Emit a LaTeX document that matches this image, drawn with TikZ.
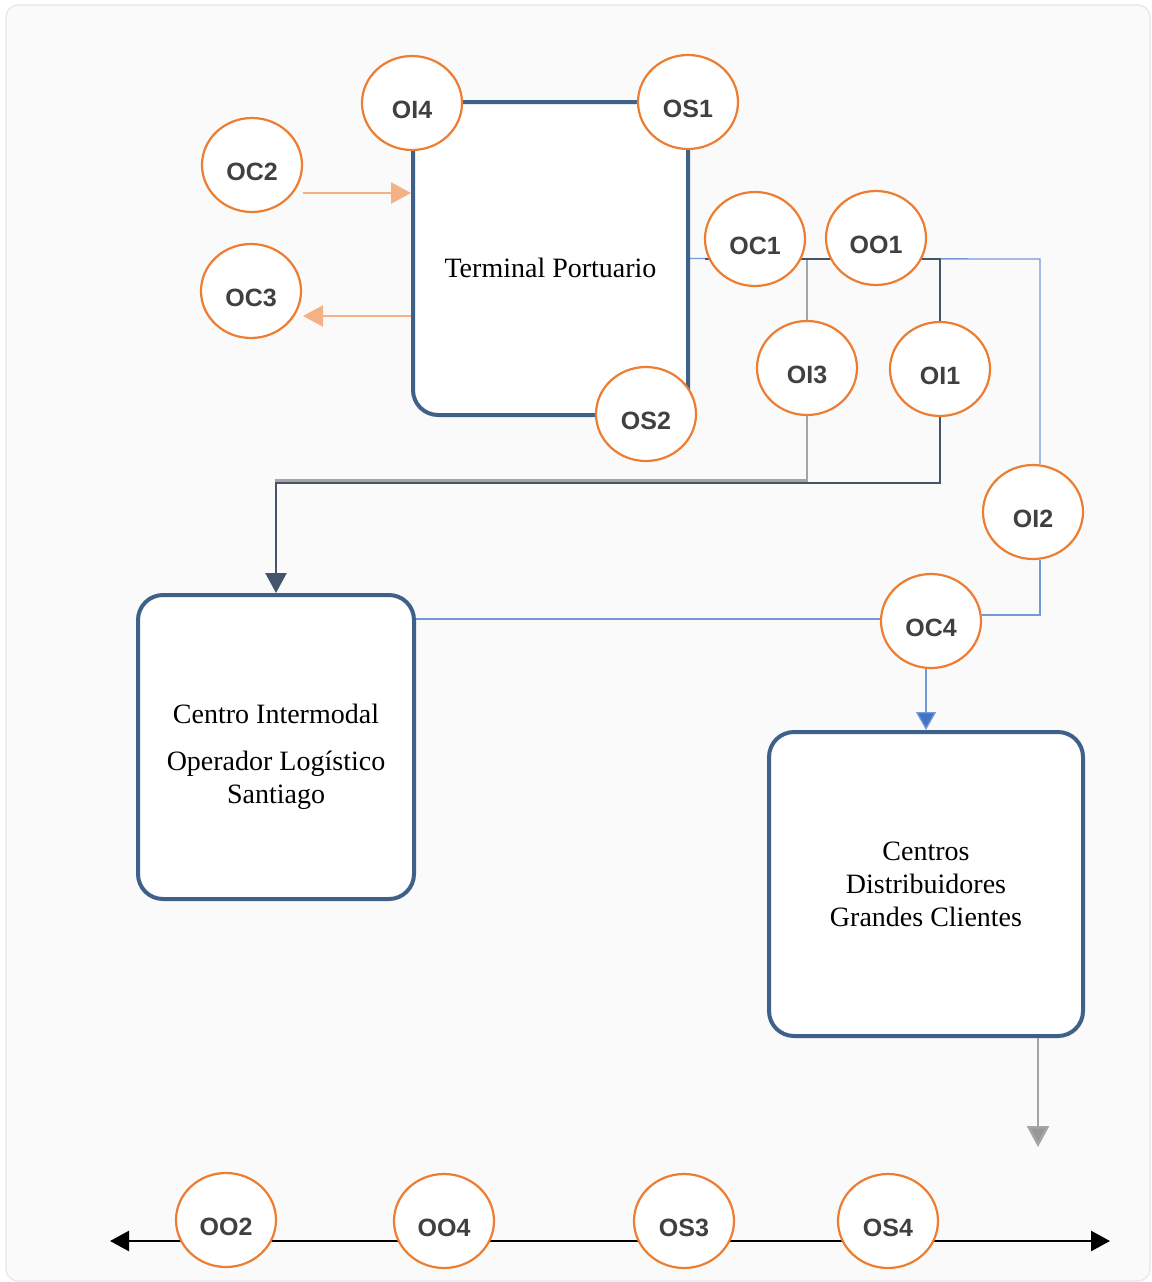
\documentclass[tikz,border=0pt]{standalone}
\usepackage{fontspec}
\setmainfont{Liberation Serif}
\newfontfamily\tagfont{Liberation Sans}
\usetikzlibrary{arrows.meta,shapes.geometric}

\definecolor{pagefill}{HTML}{FAFAFA}
\definecolor{pageedge}{HTML}{E1E7F0}
\definecolor{ringorange}{HTML}{ED7D31}
\definecolor{softorange}{HTML}{F4B183}
\definecolor{boxblue}{HTML}{3F6189}
\definecolor{slateline}{HTML}{44546A}
\definecolor{greyline}{HTML}{A5A5A5}
\definecolor{greytip}{HTML}{979797}
\definecolor{flowblue}{HTML}{7399DA}
\definecolor{tipblue}{HTML}{4472C4}
\definecolor{tagtext}{HTML}{404040}

\pgfdeclarelayer{backdrop}
\pgfdeclarelayer{wires}
\pgfsetlayers{backdrop,wires,main}

\tikzset{
  ring/.style={ellipse, draw=ringorange, line width=2.2pt, fill=white,
    minimum width=100pt, minimum height=94pt, inner sep=0pt,
    text=tagtext, font=\tagfont\bfseries\fontsize{25}{25}\selectfont},
  site/.style={rectangle, rounded corners=25pt, draw=boxblue, line width=4pt,
    fill=white, inner sep=0pt},
  sitetext/.style={align=center, text=black, font=\fontsize{28}{33}\selectfont},
  slatewire/.style={draw=slateline, line width=2.5pt},
  greywire/.style={draw=greyline, line width=2.5pt},
  bluewire/.style={draw=flowblue, line width=1.3pt},
  feedwire/.style={draw=softorange, line width=2.5pt,
    -{Triangle[length=20pt,width=21pt]}},
}
\newcommand{\tagtxt}[1]{\raisebox{-6.5pt}[\height][\depth]{#1}}

\begin{document}
\begin{tikzpicture}[x=1pt,y=-1pt]
\useasboundingbox (0,0) rectangle (1151,1282);
\begin{pgfonlayer}{backdrop}
  \draw[fill=pagefill, draw=pageedge, line width=1.2pt, rounded corners=12pt]
    (6,5) rectangle (1150,1281);
\end{pgfonlayer}

% main facilities
\node[site, minimum width=275pt, minimum height=313pt] (TP) at (550.5,258.5) {};
\node[sitetext] (tptext) at ([yshift=-9.5pt]TP.center) {Terminal Portuario};

\node[site, minimum width=276pt, minimum height=304pt] (CI) at (276,747) {};
\node[sitetext] (citext) at ([yshift=-10pt]CI.center)
  {Centro Intermodal\\[14pt]Operador Logístico\\Santiago};

\node[site, minimum width=314pt, minimum height=304pt] (CD) at (926,884) {};
\node[sitetext] (cdtext) at (CD.center) {Centros\\Distribuidores\\Grandes Clientes};

% ring markers
\node[ring] (OI4) at (412,103) {\tagtxt{OI4}};
\node[ring] (OS1) at (688,102) {\tagtxt{OS1}};
\node[ring] (OC2) at (252,165) {\tagtxt{OC2}};
\node[ring] (OC3) at (251,291) {\tagtxt{OC3}};
\node[ring] (OS2) at (646,414) {\tagtxt{OS2}};
\node[ring] (OC1) at (755,239) {\tagtxt{OC1}};
\node[ring] (OO1) at (876,238) {\tagtxt{OO1}};
\node[ring] (OI3) at (807,368) {\tagtxt{OI3}};
\node[ring] (OI1) at (940,369) {\tagtxt{OI1}};
\node[ring] (OI2) at (1033,512) {\tagtxt{OI2}};
\node[ring] (OC4) at (931,621) {\tagtxt{OC4}};
\node[ring] (OO2) at (226,1220) {\tagtxt{OO2}};
\node[ring] (OO4) at (444,1221) {\tagtxt{OO4}};
\node[ring] (OS3) at (684,1221) {\tagtxt{OS3}};
\node[ring] (OS4) at (888,1221) {\tagtxt{OS4}};

% bend points of the routes
\coordinate (blueTurnA) at (1040,259);
\coordinate (blueTurnB) at (1040,615);
\coordinate (ciEntry) at (414,619);
\coordinate (slateStart) at (705,259);
\coordinate (slateTurnA) at (940,259);
\coordinate (slateTurnB) at (940,483);
\coordinate (greyStart) at (807,259);
\coordinate (greyTurn) at (807,480.5);
\coordinate (oc2Out) at (303,193);
\coordinate (oc3In) at (303,316);
\coordinate (cdDrop) at (1038,1147);
\coordinate (axisL) at (110,1241);
\coordinate (axisR) at (1110,1241);

\begin{pgfonlayer}{wires}
  % blue route towards the distribution centres
  \draw[bluewire] (TP.east) -- (blueTurnA) -- (OI2.north -| blueTurnA);
  \draw[bluewire] (OI2.south -| blueTurnB) -- (blueTurnB) -- (blueTurnB -| OC4.center);
  \draw[bluewire] (ciEntry -| OC4.center) -- (ciEntry);
  \draw[bluewire, -{Triangle[length=18pt,width=20pt,fill=tipblue]}]
    (OC4.south -| CD.north) -- (CD.north);

  % grey route through OI3
  \draw[greywire] (greyStart) -- (OI3.north);
  \draw[greywire] (OI3.south) -- (greyTurn) -- (greyTurn -| CI.north) -- (slateTurnB -| CI.north);

  % slate route through OI1 to the intermodal centre
  \draw[slatewire] (slateStart) -- (slateTurnA) -- (OI1.north);
  \draw[slatewire, -{Triangle[length=20pt,width=21pt]}]
    (OI1.south) -- (slateTurnB) -- (slateTurnB -| CI.north) -- (CI.north);

  % port feeds
  \draw[feedwire] (oc2Out) -- (oc2Out -| TP.west);
  \draw[feedwire] (oc3In -| TP.west) -- (oc3In);

  % outlet of the distribution centres
  \draw[draw=greyline, line width=2.5pt, -{Triangle[length=21pt,width=22pt,fill=greytip]}]
    (CD.south -| cdDrop) -- (cdDrop);

  % bottom axis
  \draw[line width=2.5pt, {Triangle[length=19pt,width=20pt]}-{Triangle[length=19pt,width=20pt]}]
    (axisL) -- (axisR);
\end{pgfonlayer}
\end{tikzpicture}
\end{document}
